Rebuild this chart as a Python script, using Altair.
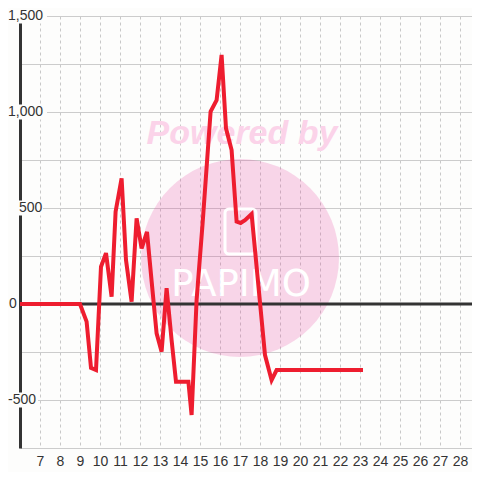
import altair as alt
import pandas as pd

# ---- data ----
x_vals = [6, 9.0, 9.33, 9.55, 9.8, 10.05, 10.3, 10.58, 10.78, 11.08, 11.3, 11.58, 11.83,
          12.08, 12.35, 12.58, 12.83, 13.08, 13.33, 13.58, 13.8, 14.42, 14.58, 14.83,
          15.13, 15.53, 15.83, 16.08, 16.3, 16.58, 16.83, 17.03, 17.25, 17.58,
          18.25, 18.58, 18.83, 23.15]
y_vals = [0, 0, -92, -333, -344, 194, 265, 38, 481, 654, 229, 12, 446,
          290, 375, 120, -153, -248, 82, -188, -405, -405, -578, 21,
          420, 1002, 1062, 1297, 915, 802, 429, 422, 437, 469,
          -266, -396, -344, -344]
x_ticks = list(range(7, 29))
y_grid = [-750, -500, -250, 0, 250, 500, 750, 1000, 1250, 1500]
y_label_vals = [-500, 0, 500, 1000, 1500]
y_label_text = ["-500", "0", "500", "1,000", "1,500"]

# ---- layout / style ----
BG = "#fdfdfc"
LABEL_LEFT = {"-500": 8, "0": 9, "500": 19, "1,000": 8, "1,500": 8}
LABEL_W = {"-500": 28, "0": 8, "500": 22, "1,000": 37, "1,500": 37}
FONT = "Liberation Sans"

df = pd.DataFrame({"x": x_vals, "y": y_vals})

xscale = alt.Scale(domain=[6, 28.6], nice=False, zero=False)
yscale = alt.Scale(domain=[-750, 1500], nice=False, zero=False)
xaxis = alt.Axis(values=x_ticks, grid=True, gridDash=[3, 3], gridColor="#c8c8c8", gridWidth=1,
                 domain=False, ticks=False, labelFontSize=14, labelColor="#333333",
                 labelPadding=6, labelFont=FONT, title=None)
yaxis = alt.Axis(values=y_grid, grid=True, gridColor="#cccccc", gridWidth=1, domain=True,
                 domainColor="#333333", domainWidth=3, ticks=False, labels=False, title=None)


def Y(field):
    return alt.Y(field, type="quantitative", scale=yscale, axis=yaxis)


one = pd.DataFrame({"a": [0]})

circle = alt.Chart(one).mark_circle(color="#e8399a", opacity=0.2, size=39200).encode(
    x=alt.value(220), y=alt.value(242))
powered = alt.Chart(one).mark_text(text="Powered by", font=FONT, fontSize=34, fontWeight="bold",
                                   fontStyle="italic", color="#fbd3e9", align="center",
                                   baseline="middle").encode(x=alt.value(222), y=alt.value(118))
papimo = alt.Chart(one).mark_text(text="PAPIMO", font="DejaVu Sans", fontSize=37,
                                  color="#ffffff", align="center", baseline="middle").encode(
    x=alt.value(221), y=alt.value(269))
icon = alt.Chart(one).mark_rect(fill=None, stroke="#ffffff", strokeWidth=3, cornerRadius=4).encode(
    x=alt.value(205), x2=alt.value(236), y=alt.value(193), y2=alt.value(238))

zero = alt.Chart(one).mark_rule(color="#333333", strokeWidth=3).encode(y=alt.datum(0))

line = alt.Chart(df).mark_line(color="#ee1d2f", strokeWidth=4).encode(
    x=alt.X("x:Q", scale=xscale, axis=xaxis), y=Y("y"))

layers = [circle, powered, papimo, icon, zero, line]

for v, t in zip(y_label_vals, y_label_text):
    d = pd.DataFrame({"y": [v], "t": [t]})
    left = LABEL_LEFT[t] - 20
    w = LABEL_W[t]
    box = alt.Chart(d).mark_tick(orient="horizontal", size=w + 3, thickness=15, color=BG,
                                 opacity=1).encode(x=alt.value(left + w / 2 + 0.5), y=Y("y"))
    txt = alt.Chart(d).mark_text(font=FONT, fontSize=14, color="#333333", align="left",
                                 baseline="middle").encode(
        x=alt.value(left), y=Y("y"), text="t:N")
    layers += [box, txt]

chart = alt.layer(*layers).properties(
    width=452, height=432, autosize="none",
    padding={"left": 12, "top": 8, "right": 0, "bottom": 24},
    background=BG,
).configure_view(stroke=None)

chart.save("out.html", embed_options={"renderer": "svg", "actions": False})
